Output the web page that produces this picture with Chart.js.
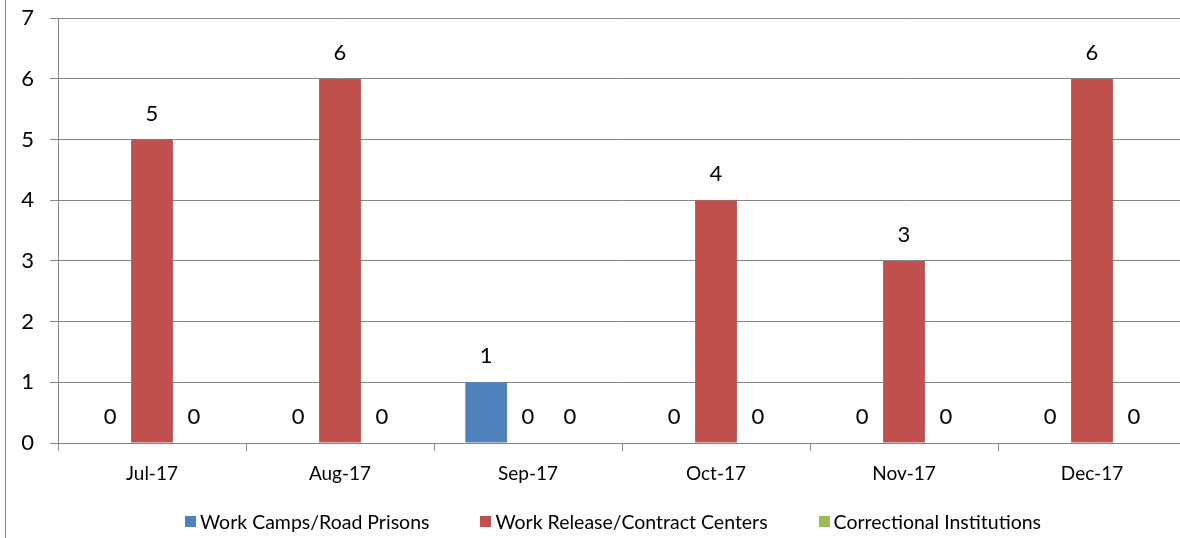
<!DOCTYPE html>
<html>
<head>
<meta charset="utf-8">
<script src="https://cdn.jsdelivr.net/npm/chart.js@4/dist/chart.umd.min.js"></script>
<style>
  html, body { margin: 0; padding: 0; background: #fff; overflow: hidden; width: 1180px; height: 538px; }
  #wrap { position: absolute; left: 0; top: -11px; width: 1186px; height: 549px; }
  #frame { position: absolute; left: 5px; top: 0; width: 0; height: 538px; border-left: 1px solid #8a8a8a; }
  #legend { position: absolute; left: 185px; top: 510px; display: flex; gap: 51px; font-family: Lato, "Open Sans", sans-serif; font-size: 19.5px; color: #000; }
  .item { display: flex; align-items: center; }
  .box { width: 11px; height: 11px; margin-right: 4px; }
</style>
</head>
<body>
<div id="wrap"><canvas id="c" width="1186" height="549"></canvas></div>
<div id="frame"></div>
<div id="legend"></div>
<script>
const categories = ["Jul-17", "Aug-17", "Sep-17", "Oct-17", "Nov-17", "Dec-17"];
const workCamps = [0, 0, 1, 0, 0, 0];
const workRelease = [5, 6, 0, 4, 3, 6];
const correctional = [0, 0, 0, 0, 0, 0];
const yTicks = [0, 1, 2, 3, 4, 5, 6, 7];
const seriesNames = ["Work Camps/Road Prisons", "Work Release/Contract Centers", "Correctional Institutions"];
const seriesColors = ["#4F81BD", "#C0504D", "#9BBB59"];

const FONT = 'Lato, "Open Sans", sans-serif';

const valueLabels = {
  id: 'valueLabels',
  afterDatasetsDraw(chart) {
    const ctx = chart.ctx;
    ctx.save();
    ctx.font = '22px ' + FONT;
    ctx.fillStyle = '#000';
    ctx.textAlign = 'center';
    ctx.textBaseline = 'middle';
    chart.data.datasets.forEach((ds, i) => {
      const meta = chart.getDatasetMeta(i);
      meta.data.forEach((el, j) => {
        ctx.fillText(String(ds.data[j]), el.x, el.y - 26);
      });
    });
    ctx.restore();
  }
};

const datasets = [workCamps, workRelease, correctional].map((d, i) => ({
  label: seriesNames[i],
  data: d,
  backgroundColor: seriesColors[i],
  borderWidth: 0,
  categoryPercentage: 0.667,
  barPercentage: 1.0
}));

new Chart(document.getElementById('c'), {
  type: 'bar',
  data: { labels: categories, datasets },
  plugins: [valueLabels],
  options: {
    responsive: false,
    animation: false,
    layout: { padding: { top: 6, right: 0, bottom: 0, left: 0 } },
    plugins: { legend: { display: false }, tooltip: { enabled: false } },
    scales: {
      x: {
        offset: true,
        grid: { display: true, offset: true, drawOnChartArea: false, drawTicks: true, tickLength: 8, color: '#868686' },
        border: { display: true, color: '#868686', width: 1 },
        ticks: { font: { family: FONT, size: 19 }, color: '#000', padding: 11 },
        afterFit(scale) { scale.height = 95; }
      },
      y: {
        min: 0, max: 7,
        afterBuildTicks(scale) { scale.ticks = yTicks.map(v => ({ value: v })); },
        grid: { color: '#868686', tickLength: 8, drawTicks: true },
        border: { display: true, color: '#868686', width: 1 },
        ticks: { font: { family: FONT, size: 22 }, color: '#000', padding: 16 },
        afterFit(scale) { scale.width = 58; }
      }
    }
  }
});

const legend = document.getElementById('legend');
seriesNames.forEach((n, i) => {
  const it = document.createElement('div');
  it.className = 'item';
  const b = document.createElement('span');
  b.className = 'box';
  b.style.background = seriesColors[i];
  const t = document.createElement('span');
  t.textContent = n;
  it.appendChild(b); it.appendChild(t);
  legend.appendChild(it);
});
</script>
</body>
</html>
